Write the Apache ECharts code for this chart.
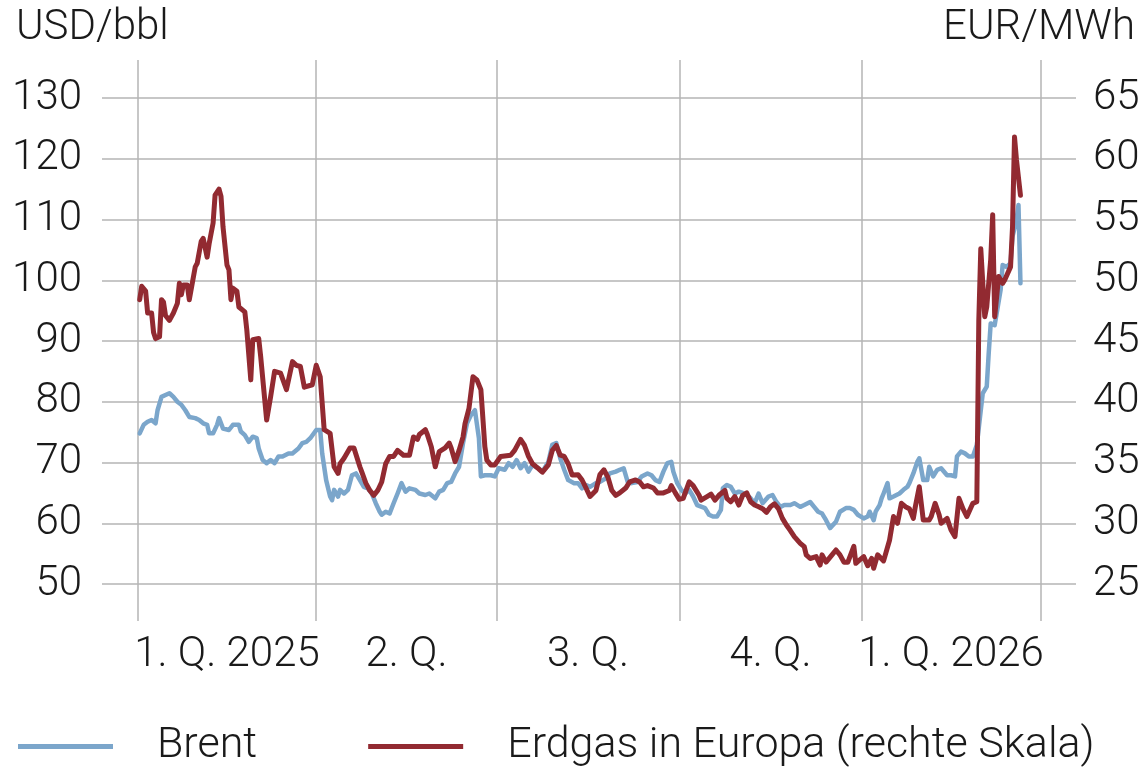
<!DOCTYPE html>
<html><head><meta charset="utf-8">
<script src="https://cdn.jsdelivr.net/npm/echarts@6/dist/echarts.min.js"></script>
<style>html,body{margin:0;padding:0;background:#fff}#c{width:1147px;height:767px}</style>
</head><body><div id="c"></div>
<script>
// x values are days since 2025-01-01 (day 0)
const quarterStartDays = [0, 90, 181, 273, 365, 455];
const quarterLabels = ['1. Q. 2025', '2. Q.', '3. Q.', '4. Q.', '1. Q. 2026'];
const leftTitle = 'USD/bbl';
const rightTitle = 'EUR/MWh';
const seriesNames = ['Brent', 'Erdgas in Europa (rechte Skala)'];

const brentDays = [1,3,5,7,9,10,12,14,16,18,20,22,24,26,29,31,33,35,36,38,40,41,43,46,48,51,52,54,56,58,60,61,63,65,67,69,71,73,76,78,81,83,85,87,88,90,92,93,95,97,98,99,101,102,104,106,108,110,112,114,116,118,120,122,123,125,127,129,131,133,135,137,140,142,145,147,150,152,154,156,158,160,162,164,166,168,170,172,173,175,178,180,182,185,187,189,191,193,195,197,199,202,204,207,209,211,213,215,217,220,222,224,226,228,231,233,236,238,241,243,245,247,249,252,254,257,259,261,263,265,267,269,270,272,274,276,278,280,282,286,288,290,292,294,295,297,299,301,303,305,307,309,311,313,315,316,318,320,322,324,326,329,331,334,336,339,341,343,345,347,349,350,352,354,357,359,361,363,366,368,369,371,372,374,375,376,378,379,381,384,386,388,389,391,393,394,396,398,399,401,403,405,408,410,412,413,415,417,419,421,423,425,426,428,429,430,432,433,435,436,438,440,441,443,444,445];
const brentValues = [74.8,76.2,76.7,77.0,76.45,78.6,80.8,81.1,81.4,80.8,80.0,79.5,78.6,77.5,77.3,77.0,76.45,76.2,74.8,74.8,76.2,77.3,75.6,75.35,76.2,76.2,75.1,74.5,73.4,74.25,74.0,72.3,70.4,69.9,70.4,69.9,71.0,71.0,71.5,71.5,72.3,73.2,73.4,74.0,74.25,75.35,75.35,71.5,67.1,64.4,63.8,65.5,64.4,65.5,64.9,65.5,67.9,68.2,67.1,66.0,65.75,64.9,63.3,61.9,61.4,61.9,61.6,63.3,64.9,66.6,65.2,65.75,65.5,64.9,64.65,64.9,64.1,65.2,65.5,66.6,66.8,68.2,69.3,73.2,76.45,77.8,78.6,74.0,67.7,67.9,67.9,67.7,69.05,68.8,69.9,69.3,70.4,69.05,69.9,68.5,69.6,69.05,68.5,70.1,72.9,73.2,70.7,68.8,67.1,66.6,66.6,65.75,66.3,66.0,66.6,66.8,67.4,68.2,68.5,68.8,69.05,66.8,66.6,66.8,67.7,68.2,67.9,67.1,66.8,68.5,69.9,70.1,68.5,66.6,65.5,64.9,65.5,64.4,63.0,62.5,61.4,61.1,61.1,62.2,65.75,66.3,66.0,64.9,65.2,65.0,64.65,64.1,63.3,64.9,63.3,63.5,64.4,64.65,63.5,62.7,63.0,63.0,63.3,62.7,63.0,63.5,62.7,61.9,61.6,60.5,59.2,59.4,60.25,61.9,62.5,62.5,62.2,61.4,60.8,61.1,61.9,60.5,61.9,63.0,64.1,64.9,66.6,64.1,64.4,64.9,65.5,66.0,66.6,68.2,70.1,70.7,67.1,67.1,69.3,67.7,68.8,69.05,67.9,67.9,67.7,71.0,71.8,71.5,71.0,71.0,72.9,78.6,81.4,82.5,88.0,92.9,92.6,92.9,98.4,102.5,102.2,102.8,107.2,109.9,112.4,99.5];

const gasDays = [1,2,4,5,7,8,9,11,12,13,14,16,18,20,21,22,23,25,26,27,29,30,32,33,35,36,38,39,41,42,43,45,46,47,48,50,51,54,55,57,58,61,62,65,67,69,72,73,75,76,78,80,82,84,88,89,90,92,94,97,99,101,102,104,107,109,112,113,115,117,119,121,123,125,127,129,131,134,137,139,141,142,145,146,148,150,152,155,157,158,160,162,164,165,167,168,169,171,173,175,176,178,180,183,188,190,193,195,197,199,202,204,207,209,211,213,215,217,219,222,224,226,228,231,233,235,237,239,241,243,246,248,251,253,255,257,260,262,265,268,269,271,273,275,278,280,283,284,287,289,291,293,296,297,299,301,303,305,307,309,311,313,315,317,319,321,323,325,327,329,331,334,336,337,339,342,344,345,347,350,352,354,356,358,361,362,364,366,368,370,371,373,376,379,381,383,385,387,389,391,392,394,395,396,399,400,402,404,405,408,410,412,414,416,418,421,423,424,425,427,428,430,431,432,434,436,437,440,441,442,443,445];
const gasValues = [48.4,49.5,49.1,47.3,47.3,45.7,45.2,45.35,48.4,48.2,47.1,46.7,47.3,48.1,49.75,48.8,49.6,49.6,48.4,48.5,51.1,51.4,53.2,53.45,51.9,53.0,54.7,57.0,57.5,56.9,54.4,51.25,50.85,48.4,49.35,49.1,47.8,47.4,45.9,41.8,45.1,45.2,43.7,38.5,40.4,42.5,42.35,42.2,41.0,41.0,43.3,43.0,42.9,41.2,41.4,41.5,43.0,42.06,37.7,37.4,34.65,34.1,34.9,35.35,36.2,36.2,34.65,34.2,33.3,32.7,32.3,32.7,33.4,34.9,35.5,35.5,36.0,35.6,35.6,37.1,36.9,37.3,37.7,37.3,36.3,34.65,35.9,36.2,36.6,36.2,35.07,36.0,37.1,38.2,39.46,39.3,42.06,41.8,41.0,36.3,35.2,34.8,34.8,35.5,35.6,36.0,36.9,36.4,35.5,34.9,34.5,34.2,34.8,36.0,36.4,35.6,35.5,34.9,33.97,34.0,33.56,32.9,32.2,32.7,34.0,34.4,33.8,32.7,32.3,32.5,32.9,33.4,33.56,33.4,33.0,33.1,32.9,32.5,32.5,32.7,33.1,32.5,31.97,32.05,33.4,33.1,32.3,31.9,32.2,32.4,31.9,32.3,32.7,32.05,31.77,32.2,31.5,32.3,32.5,31.77,31.5,31.36,31.2,30.9,31.36,31.6,31.2,30.4,29.85,29.4,28.9,28.35,28.07,27.4,27.1,27.25,26.56,27.4,26.8,27.4,27.8,27.4,26.8,26.8,28.1,26.7,26.98,27.25,26.5,27.1,26.3,27.4,26.9,28.6,30.55,30.0,31.64,31.36,31.2,30.4,31.36,33.0,32.9,30.27,30.27,30.55,31.64,30.7,30.0,30.4,29.44,28.9,32.05,31.2,30.55,31.64,31.77,46.7,52.6,47.0,47.8,51.7,55.4,47.0,50.3,49.75,50.0,51.1,54.4,61.8,59.9,57.0];

const xMinDay = -18, xMaxDay = 473;
const labelDays = quarterLabels.map((_, i) => (quarterStartDays[i] + quarterStartDays[i + 1]) / 2);

const FONT = 'Roboto';
const TXT = '#1a1a1a';
const GRIDC = '#b5b5b5';
const BLUE = '#7ba6cb';
const RED = '#922a31';

const chart = echarts.init(document.getElementById('c'), null, {renderer: 'canvas'});
chart.setOption({
  animation: false,
  backgroundColor: '#fff',
  textStyle: {fontFamily: FONT},
  title: [
    {text: leftTitle, left: 11, top: 2, textStyle: {fontFamily: FONT, fontSize: 42, fontWeight: 300, color: TXT}},
    {text: rightTitle, right: 7, top: 2, textStyle: {fontFamily: FONT, fontSize: 42, fontWeight: 300, color: TXT}}
  ],
  legend: {
    data: seriesNames,
    left: 13, top: 720,
    icon: 'rect', itemWidth: 95, itemHeight: 5, itemGap: 111,
    formatter: n => '{t|' + n + '}',
    textStyle: {rich: {t: {fontFamily: FONT, fontSize: 43, fontWeight: 300, color: TXT, padding: [0, 0, 0, 39], lineHeight: 46}}}
  },
  grid: [
    {left: 102, right: 71, top: 98, bottom: 183},
    {left: 102, right: 71, top: 60, bottom: 146}
  ],
  xAxis: [
    {type: 'value', gridIndex: 0, min: xMinDay, max: xMaxDay, show: false, splitLine: {show: false}},
    {type: 'value', gridIndex: 1, min: xMinDay, max: xMaxDay,
     axisLine: {show: false},
     axisTick: {show: false, customValues: quarterStartDays},
     splitLine: {show: true, lineStyle: {color: GRIDC, width: 1.5}},
     axisLabel: {customValues: labelDays, margin: 13, fontFamily: FONT, fontSize: 42, fontWeight: 300, color: TXT,
       formatter: v => { const i = labelDays.findIndex(d => Math.abs(d - v) < 0.01); return i >= 0 ? quarterLabels[i] : ''; }}
    }
  ],
  yAxis: [
    {type: 'value', gridIndex: 0, min: 50, max: 130, interval: 10, position: 'left',
     axisLine: {show: false}, axisTick: {show: false},
     splitLine: {show: true, lineStyle: {color: GRIDC, width: 1.5}},
     axisLabel: {margin: 20, fontFamily: FONT, fontSize: 42, fontWeight: 300, color: TXT}},
    {type: 'value', gridIndex: 0, min: 25, max: 65, interval: 5, position: 'right',
     axisLine: {show: false}, axisTick: {show: false}, splitLine: {show: false},
     axisLabel: {margin: 17, fontFamily: FONT, fontSize: 42, fontWeight: 300, color: TXT}},
    {type: 'value', gridIndex: 1, min: 0, max: 1, show: false, splitLine: {show: false}}
  ],
  series: [
    {name: seriesNames[0], type: 'line', xAxisIndex: 0, yAxisIndex: 0, showSymbol: false, symbol: 'none',
     data: brentDays.map((d, i) => [d, brentValues[i]]),
     itemStyle: {color: BLUE}, lineStyle: {color: BLUE, width: 4.5, join: 'round', cap: 'round'}, z: 2},
    {name: seriesNames[1], type: 'line', xAxisIndex: 0, yAxisIndex: 1, showSymbol: false, symbol: 'none',
     data: gasDays.map((d, i) => [d, gasValues[i]]),
     itemStyle: {color: RED}, lineStyle: {color: RED, width: 5, join: 'round', cap: 'round'}, z: 3}
  ]
});
</script></body></html>
